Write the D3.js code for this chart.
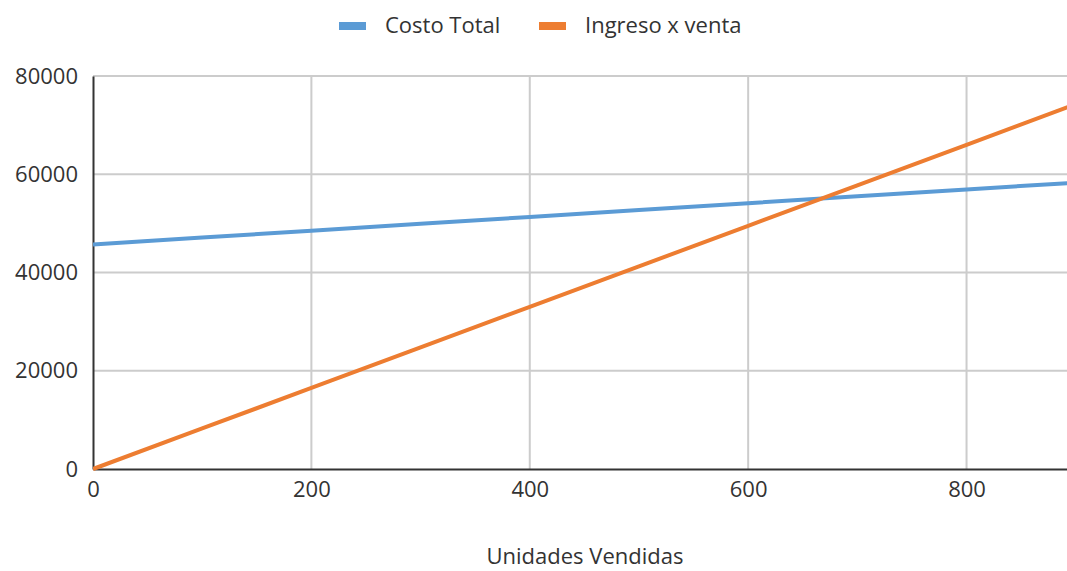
<!DOCTYPE html>
<html>
<head>
	<meta charset="utf-8">
	<title>costo-ingreso</title>
	<script type="text/javascript" src="https://cdnjs.cloudflare.com/ajax/libs/d3/7.8.5/d3.min.js"></script>
	<style type="text/css">
		body{
			margin: 0;
			background-color: #fff;
		}
		text{
			font-family: "Open Sans", "Noto Sans", sans-serif;
			fill: #333;
		}
	</style>
</head>
<body>
	<div id="chart"></div>
	<script type="text/javascript">
		// datos
		var unidades = [0, 100, 200, 300, 400, 500, 600, 700, 800, 900];
		var costoTotal = [45700, 47100, 48500, 49900, 51300, 52700, 54100, 55500, 56900, 58300];
		var ingresoVenta = [0, 8250, 16500, 24750, 33000, 41250, 49500, 57750, 66000, 74250];
		var xTicks = [0, 200, 400, 600, 800];
		var yTicks = [0, 20000, 40000, 60000, 80000];
		var seriesNames = ['Costo Total', 'Ingreso x venta'];
		var colors = ['#5b9bd5', '#ed7d31'];

		var W = 1067, H = 571;
		var mLeft = 93, mRight = 1067, mTop = 76, mBottom = 469;

		var svg = d3.select('#chart')
					.append('svg')
					.attr('width', W)
					.attr('height', H);

		var x = d3.scaleLinear().domain([0, 892]).range([mLeft, mRight]);
		var y = d3.scaleLinear().domain([0, 80000]).range([mBottom, mTop]);

		svg.append('clipPath').attr('id', 'plot')
			.append('rect')
			.attr('x', mLeft).attr('y', mTop - 5)
			.attr('width', mRight - mLeft).attr('height', mBottom - mTop + 10);

		// rejilla
		var grid = svg.append('g');
		grid.selectAll('line.gx').data(xTicks.filter(function(d){return d > 0;})).enter()
			.append('line')
			.attr('x1', function(d){return x(d);})
			.attr('x2', function(d){return x(d);})
			.attr('y1', mTop).attr('y2', mBottom)
			.attr('stroke', '#cccccc').attr('stroke-width', 2);
		grid.selectAll('line.gy').data(yTicks.filter(function(d){return d > 0;})).enter()
			.append('line')
			.attr('x1', mLeft).attr('x2', mRight)
			.attr('y1', function(d){return y(d);})
			.attr('y2', function(d){return y(d);})
			.attr('stroke', '#cccccc').attr('stroke-width', 2);

		// ejes
		var xAxis = svg.append('g')
			.attr('transform', 'translate(0,' + mBottom + ')')
			.call(d3.axisBottom(x).tickValues(xTicks).tickSize(0).tickPadding(12).tickFormat(d3.format('d')));
		var yAxis = svg.append('g')
			.attr('transform', 'translate(' + mLeft + ',0)')
			.call(d3.axisLeft(y).tickValues(yTicks).tickSize(0).tickPadding(15).tickFormat(d3.format('d')));
		[xAxis, yAxis].forEach(function(a){
			a.select('.domain').attr('stroke', '#333').attr('stroke-width', 2);
			a.selectAll('text').style('font-size', '22px').style('font-family', '"Open Sans", sans-serif').attr('fill', '#333');
		});

		// lineas
		var series = [costoTotal, ingresoVenta];
		var line = d3.line()
			.x(function(d, i){return x(unidades[i]);})
			.y(function(d){return y(d);});
		svg.append('g').attr('clip-path', 'url(#plot)')
			.selectAll('path').data(series).enter()
			.append('path')
			.attr('d', line)
			.attr('fill', 'none')
			.attr('stroke', function(d, i){return colors[i];})
			.attr('stroke-width', 4);

		// leyenda
		var legendX = [339, 539];
		var legend = svg.selectAll('g.legend').data(seriesNames).enter()
			.append('g')
			.attr('transform', function(d, i){return 'translate(' + legendX[i] + ',0)';});
		legend.append('rect')
			.attr('x', 0).attr('y', 22)
			.attr('width', 27).attr('height', 8)
			.attr('fill', function(d, i){return colors[i];});
		legend.append('text')
			.attr('x', 46).attr('y', 33)
			.style('font-size', '22px')
			.text(function(d){return d;});

		// titulo del eje
		svg.append('text')
			.attr('x', 585).attr('y', 564)
			.attr('text-anchor', 'middle')
			.style('font-size', '22px')
			.text('Unidades Vendidas');
	</script>
</body>
</html>
